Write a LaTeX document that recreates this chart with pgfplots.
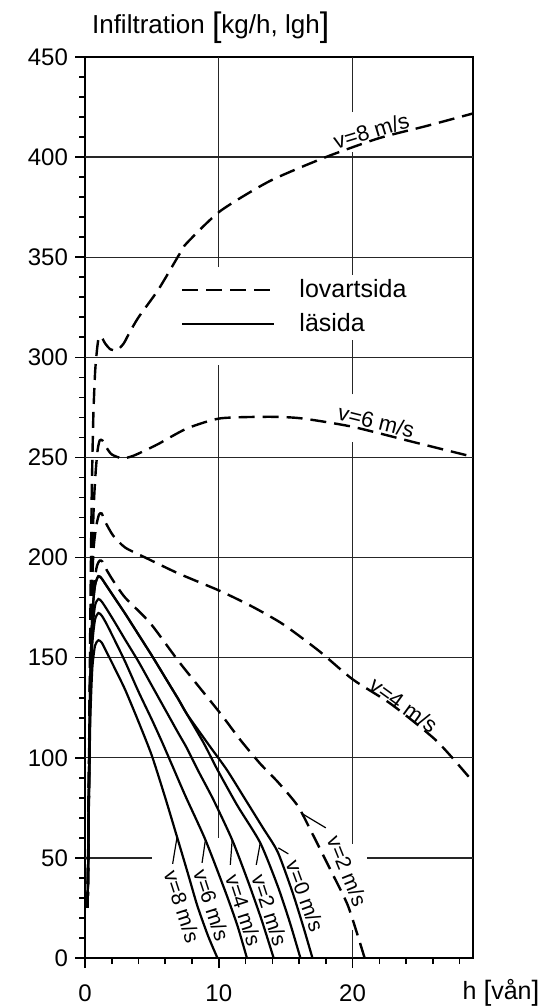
\documentclass[border=0pt]{standalone}
\usepackage{pgfplots}
\pgfplotsset{compat=1.18}
\usepackage{fontspec}
\setmainfont{Liberation Sans}

\begin{document}
\begin{tikzpicture}[
  gridline/.style={black!85, line width=0.7pt},
  lee/.style={black, line width=1.1pt},
  wind/.style={black, line width=1.2pt, dash pattern=on 8pt off 4pt},
  lbl/.style={font=\fontsize{10.5}{12}\selectfont, inner sep=0.5pt},
  leader/.style={black, line width=0.6pt},
]
\begin{axis}[
  name=main,
  scale only axis, width=194pt, height=450.5pt,
  xmin=0, xmax=29, ymin=0, ymax=450,
  xtick={0,10,20}, ytick={0,50,...,450},
  minor xtick={2,4,...,28}, minor ytick={10,20,...,440},
  tick align=outside, xtick pos=left, ytick pos=left,
  major tick length=5pt, minor tick length=3pt,
  tick style={black, line width=0.8pt},
  axis line style={black, line width=1pt},
  ticklabel style={font=\fontsize{12}{14}\selectfont},
  /pgf/number format/assume math mode=true,
  xticklabel style={yshift=-5pt},
  clip=false,
  legend cell align=left,
  legend style={at={(axis cs:7.0,341.5)}, anchor=north west, draw=none, fill=white,
    inner sep=1pt, font=\fontsize{12.5}{15}\selectfont, row sep=3.5pt,
    nodes={inner sep=1.5pt},
    /tikz/every odd column/.append style={column sep=10.5pt}},
  legend image code/.code={\draw[#1] (0pt,0pt) -- (46pt,0pt);},
]

% grid, interrupted where the labels and the legend sit
\draw[gridline] (axis cs:0,100) -- (axis cs:29,100);
\draw[gridline] (axis cs:0,150) -- (axis cs:29,150);
\draw[gridline] (axis cs:0,200) -- (axis cs:29,200);
\draw[gridline] (axis cs:0,250) -- (axis cs:29,250);
\draw[gridline] (axis cs:0,300) -- (axis cs:29,300);
\draw[gridline] (axis cs:0,350) -- (axis cs:29,350);
\draw[gridline] (axis cs:0,400) -- (axis cs:29,400);
\draw[gridline] (axis cs:0,50) -- (axis cs:5.0,50);
\draw[gridline] (axis cs:21.1,50) -- (axis cs:29,50);
\draw[gridline] (axis cs:10,60) -- (axis cs:10,296);
\draw[gridline] (axis cs:10,345) -- (axis cs:10,450);
\draw[gridline] (axis cs:20,0) -- (axis cs:20,14);
\draw[gridline] (axis cs:20,57) -- (axis cs:20,257.5);
\draw[gridline] (axis cs:20,281.5) -- (axis cs:20,402.5);
\draw[gridline] (axis cs:20,422.5) -- (axis cs:20,450);

% windward side (dashed)
\addplot[wind, smooth, tension=0.4, forget plot] coordinates {
  (0.2,25) (0.3,100) (0.4,170) (0.5,230) (0.62,270) (0.75,292) (0.87,302)
  (1.0,309) (1.2,310.5) (1.5,307) (1.9,304) (2.4,303.5) (2.9,307) (3.3,312)
  (4.0,320) (5.5,334) (7.1,352) (7.6,357) (10.1,373) (13.8,388) (18.0,400)
  (22.0,409.5) (25.5,415.5) (29,421.8)};
\addplot[wind, smooth, tension=0.4, forget plot] coordinates {
  (0.2,25) (0.35,120) (0.5,190) (0.65,225) (0.8,243) (0.95,254) (1.1,258.5)
  (1.3,258.5) (1.6,255) (2.0,251.5) (2.8,249.5) (3.6,250.8) (4.5,253.5)
  (5.5,256.8) (7.6,264.4) (10.1,269.5) (13.8,270.3) (16.2,269.5) (20,265.3)
  (24.6,257.6) (29,250.3)};
\addplot[wind, smooth, tension=0.4, forget plot] coordinates {
  (0.2,25) (0.35,120) (0.5,180) (0.65,205) (0.85,216) (1.05,221.5) (1.25,222)
  (1.5,218) (2.1,211) (3.0,205) (4.5,200) (7.0,192) (10.1,183.3) (12.5,175.5)
  (14.8,166.7) (17.5,153.3) (20.0,139.2) (22.9,126.7) (26.3,108.3) (29,88)};
\addplot[wind, smooth, tension=0.4, forget plot] coordinates {
  (0.2,25) (0.35,120) (0.5,170) (0.7,188) (0.9,196) (1.1,198.5) (1.3,198)
  (1.6,194) (2.1,188.5) (3.0,180) (4.87,167.3) (7.1,147.3) (10.1,122.3)
  (11.6,109) (13.1,97) (14.4,88) (15.9,76) (17.0,62) (18.35,44) (19.6,27)
  (20.3,13) (20.9,0)};

% leeward side (solid)
\addplot[lee, smooth, tension=0.4, forget plot] coordinates {
  (0.2,25) (0.3,80) (0.4,120) (0.55,145) (0.75,156) (1.0,158.7) (1.25,157.5)
  (1.6,153) (2.2,145) (3.0,134) (4.0,118) (5.0,101) (6.0,80) (6.9,60)
  (7.7,42) (8.4,26) (9.2,11) (9.9,0)};
\addplot[lee, smooth, tension=0.4, forget plot] coordinates {
  (0.2,25) (0.3,85) (0.4,130) (0.55,157) (0.75,169) (1.0,172.3) (1.25,171)
  (1.6,167) (2.2,159) (3.0,148) (4.0,133) (5.0,119) (5.75,108) (6.4,98)
  (7.5,81) (9.0,59) (10.5,33) (11.4,16) (12.1,0)};
\addplot[lee, smooth, tension=0.4, forget plot] coordinates {
  (0.2,25) (0.3,88) (0.4,135) (0.55,163) (0.75,176) (1.0,179.3) (1.25,178)
  (1.6,174.5) (2.2,168) (3.0,159) (4.0,148) (5.0,136) (6.0,124) (7.0,112)
  (7.6,105) (8.5,93) (9.6,79) (11.0,59) (12.2,38) (13.2,19) (14.1,0)};
\addplot[lee, smooth, tension=0.4, forget plot] coordinates {
  (0.2,25) (0.3,92) (0.4,142) (0.55,172) (0.75,186) (1.0,190.7) (1.25,189.5)
  (1.6,186) (2.2,180) (3.0,172) (4.0,161.5) (5.0,151) (6.0,140) (7.0,129)
  (7.6,122) (8.9,107) (9.9,94) (11.4,76) (13.1,57.5) (14.4,36) (15.3,18)
  (16.1,0)};
\addplot[lee, smooth, tension=0.4, forget plot] coordinates {
  (0.2,25) (0.3,92) (0.4,142) (0.55,172) (0.75,186) (1.0,190.7) (1.25,189.5)
  (1.6,186) (2.2,180) (3.0,172) (4.0,161.5) (5.0,151) (6.0,140) (7.0,129)
  (7.6,122) (9.3,106) (10.6,94) (12.0,79) (13.3,65) (14.4,53) (15.5,33)
  (16.3,16) (17.0,0)};

\addlegendimage{wind}
\addlegendentry{lovartsida}
\addlegendimage{lee}
\addlegendentry{läsida}

% curve labels
\node[lbl, font=\fontsize{11}{13}\selectfont, rotate=17, anchor=south] at (axis cs:21.6,408.5) {v=8 m/s};
\node[lbl, font=\fontsize{11}{13}\selectfont, rotate=-14, anchor=south] at (axis cs:21.6,263.5) {v=6 m/s};
\node[lbl, font=\fontsize{11}{13}\selectfont, rotate=-36, anchor=south] at (axis cs:23.4,122.5) {v=4 m/s};

\node[lbl, rotate=-72] at (axis cs:7.25,25.7) {v=8 m/s};
\node[lbl, rotate=-72] at (axis cs:9.45,26.5) {v=6 m/s};
\node[lbl, rotate=-72] at (axis cs:11.85,24) {v=4 m/s};
\node[lbl, rotate=-72] at (axis cs:13.8,24) {v=2 m/s};
\node[lbl, rotate=-70] at (axis cs:16.45,31) {v=0 m/s};
\node[lbl, rotate=-68] at (axis cs:19.6,43.5) {v=2 m/s};

\draw[leader] (axis cs:6.55,47) -- (axis cs:6.87,60);
\draw[leader] (axis cs:8.75,47.5) -- (axis cs:9.0,59);
\draw[leader] (axis cs:10.86,46.5) -- (axis cs:11.0,59);
\draw[leader] (axis cs:12.8,46.5) -- (axis cs:13.1,57.5);
\draw[leader] (axis cs:15.2,52) -- (axis cs:14.45,55);
\draw[leader] (axis cs:18.0,65) -- (axis cs:16.25,72);

% axis titles
\node[anchor=base west, font=\fontsize{13}{15}\selectfont]
  at (rel axis cs:0,1) [shift={(0pt,11.5pt)}]
  {Infiltration \raisebox{-1.5pt}{\fontsize{17}{17}\selectfont[}kg/h, lgh\raisebox{-1.5pt}{\fontsize{17}{17}\selectfont]}};
\node[anchor=base west, inner sep=0pt, font=\fontsize{12.5}{14}\selectfont]
  at (axis cs:28.2,0) [yshift=-20.5pt]
  {h \raisebox{-0.5pt}{\fontsize{14}{14}\selectfont[}vån\raisebox{-0.5pt}{\fontsize{14}{14}\selectfont]}};
\end{axis}
\pgfresetboundingbox
\path[use as bounding box] ([shift={(-42.5pt,-24.5pt)}]main.south west)
  rectangle ([shift={(42.5pt,28.5pt)}]main.north east);
\end{tikzpicture}
\end{document}
